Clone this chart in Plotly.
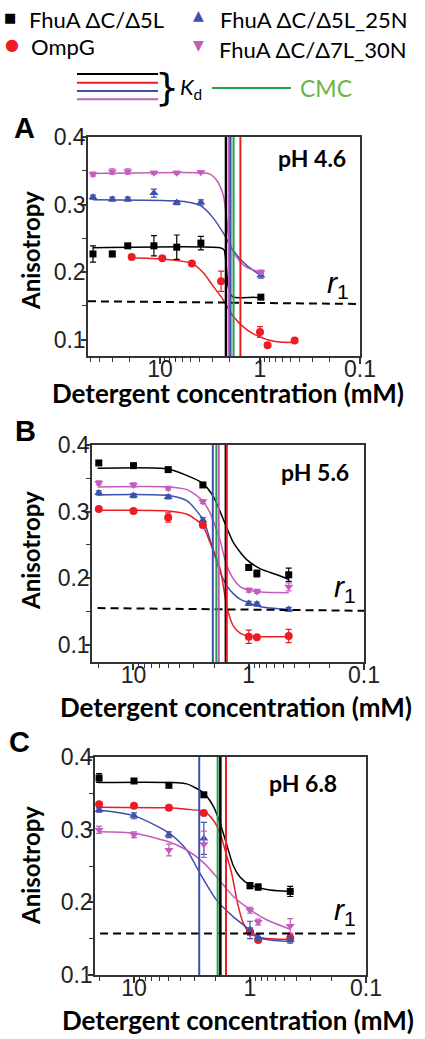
import plotly.graph_objects as go

# ---------------- DATA ----------------
# Panel A (pH 4.6)
conc_A = [46.8, 30.0, 21.0, 11.5, 6.8, 3.9, 0.98]
conc_A_red = [19.2, 9.5, 4.8, 2.45, 1.0, 0.84, 0.45]
A_black = [0.227, 0.227, 0.239, 0.239, 0.237, 0.243, 0.163]
A_black_err = [0.012, 0.004, 0.003, 0.015, 0.018, 0.010, 0.003]
A_blue = [0.311, 0.308, 0.308, 0.317, 0.303, 0.303, 0.195]
A_blue_err = [0.003, 0.003, 0.003, 0.006, 0.003, 0.004, 0.004]
A_mag = [0.345, 0.349, 0.349, 0.347, 0.347, 0.348, 0.200]
A_mag_err = [0.003, 0.004, 0.004, 0.002, 0.002, 0.002, 0.003]
A_red = [0.2225, 0.2205, 0.213, 0.1865, 0.1115, 0.092, 0.099]
A_red_err = [0.002, 0.002, 0.002, 0.015, 0.008, 0.003, 0.002]

A_fit_black_x = [46.8, 2.51, 2.29, 2.19, 2.09, 1.95, 1.82, 0.977]
A_fit_black_y = [0.236, 0.236, 0.233, 0.215, 0.180, 0.166, 0.163, 0.163]
A_fit_mag_x = [46.8, 3.89, 3.16, 2.71, 2.33, 2.15, 2.0, 1.71, 1.36, 0.977]
A_fit_mag_y = [0.346, 0.347, 0.345, 0.336, 0.314, 0.277, 0.242, 0.222, 0.207, 0.200]
A_fit_blue_x = [46.8, 5.41, 3.89, 2.93, 2.33, 1.85, 1.36, 0.977]
A_fit_blue_y = [0.307, 0.304, 0.298, 0.280, 0.258, 0.232, 0.210, 0.195]
A_fit_red_x = [19.2, 9.48, 4.79, 3.69, 2.93, 2.33, 1.85, 1.36, 1.0, 0.68, 0.447]
A_fit_red_y = [0.2215, 0.2195, 0.213, 0.199, 0.179, 0.159, 0.1345, 0.115, 0.104, 0.097, 0.096]
A_kd = {"black": 2.19, "mag": 2.04, "blue": 1.97, "red": 1.57}
A_cmc = 1.84
A_r1_x = [52.5, 0.1]
A_r1_y = [0.157, 0.153]

# Panels B and C share concentrations
conc_BC = [20, 10, 5, 2.5, 1.0, 0.85, 0.45]

# Panel B (pH 5.6)
B_black = [0.373, 0.369, 0.363, 0.340, 0.216, 0.207, 0.205]
B_black_err = [0.003, 0.003, 0.003, 0.003, 0.004, 0.005, 0.010]
B_mag = [0.343, 0.340, 0.335, 0.315, 0.182, 0.180, 0.187]
B_mag_err = [0.003, 0.003, 0.003, 0.003, 0.003, 0.003, 0.006]
B_blue = [0.328, 0.324, 0.322, 0.287, 0.162, 0.161, 0.153]
B_blue_err = [0.003, 0.003, 0.003, 0.004, 0.003, 0.003, 0.003]
B_red = [0.304, 0.301, 0.291, 0.280, 0.112, 0.111, 0.113]
B_red_err = [0.002, 0.002, 0.007, 0.004, 0.010, 0.003, 0.010]

B_fit_black_x = [20.5, 5.02, 3.43, 2.54, 2.02, 1.65, 1.35, 1.03, 0.79, 0.567, 0.449]
B_fit_black_y = [0.365, 0.364, 0.354, 0.343, 0.322, 0.287, 0.2525, 0.227, 0.214, 0.205, 0.198]
B_fit_mag_x = [20.5, 5.02, 3.43, 2.54, 2.15, 2.02, 1.88, 1.76, 1.65, 1.54, 1.35, 1.18, 1.0, 0.79, 0.449]
B_fit_mag_y = [0.337, 0.337, 0.333, 0.317, 0.297, 0.285, 0.270, 0.255, 0.235, 0.218, 0.198, 0.187, 0.182, 0.179, 0.178]
B_fit_blue_x = [20.5, 5.02, 3.43, 2.54, 2.30, 2.02, 1.76, 1.54, 1.35, 1.18, 1.0, 0.79, 0.449]
B_fit_blue_y = [0.325, 0.324, 0.316, 0.290, 0.272, 0.240, 0.208, 0.188, 0.176, 0.168, 0.163, 0.157, 0.153]
B_fit_red_x = [20.5, 5.02, 3.43, 2.54, 2.30, 2.15, 1.95, 1.76, 1.65, 1.54, 1.35, 1.18, 1.0, 0.449]
B_fit_red_y = [0.302, 0.301, 0.296, 0.280, 0.265, 0.252, 0.235, 0.212, 0.185, 0.155, 0.127, 0.117, 0.113, 0.112]
B_kd = {"blue": 2.05, "mag": 1.82, "black": 1.58, "red": 1.55}
B_cmc = 1.91
B_r1_x = [20.5, 0.1]
B_r1_y = [0.155, 0.151]

# Panel C (pH 6.8)
C_black = [0.371, 0.367, 0.361, 0.348, 0.223, 0.221, 0.215]
C_black_err = [0.006, 0.003, 0.003, 0.003, 0.004, 0.004, 0.007]
C_red = [0.335, 0.333, 0.330, 0.323, 0.160, 0.148, 0.151]
C_red_err = [0.003, 0.003, 0.003, 0.003, 0.005, 0.003, 0.005]
C_blue = [0.327, 0.319, 0.293, 0.288, 0.162, 0.152, 0.148]
C_blue_err = [0.003, 0.004, 0.004, 0.022, 0.012, 0.004, 0.004]
C_mag = [0.300, 0.293, 0.272, 0.280, 0.189, 0.173, 0.1675]
C_mag_err = [0.005, 0.004, 0.008, 0.018, 0.004, 0.004, 0.010]

C_fit_black_x = [20.3, 4.96, 3.51, 2.49, 2.07, 1.81, 1.59, 1.39, 1.22, 1.0, 0.67, 0.45]
C_fit_black_y = [0.365, 0.365, 0.363, 0.350, 0.332, 0.309, 0.280, 0.250, 0.235, 0.224, 0.217, 0.215]
C_fit_red_x = [20.3, 4.96, 3.51, 2.49, 2.07, 1.81, 1.64, 1.44, 1.26, 1.14, 1.0, 0.77, 0.45]
C_fit_red_y = [0.331, 0.330, 0.328, 0.325, 0.313, 0.295, 0.272, 0.240, 0.194, 0.171, 0.157, 0.151, 0.149]
C_fit_blue_x = [20.6, 9.94, 4.96, 3.51, 2.70, 1.94, 1.39, 1.0, 0.82, 0.45]
C_fit_blue_y = [0.327, 0.319, 0.295, 0.272, 0.240, 0.203, 0.180, 0.162, 0.151, 0.146]
C_fit_mag_x = [20.3, 9.94, 4.96, 3.51, 2.49, 1.94, 1.39, 1.0, 0.72, 0.45]
C_fit_mag_y = [0.297, 0.295, 0.283, 0.272, 0.254, 0.235, 0.208, 0.190, 0.176, 0.163]
C_kd = {"blue": 2.74, "mag": 1.81, "black": 1.80, "red": 1.61}
C_cmc = 1.90
C_r1_x = [19.6, 0.12]
C_r1_y = [0.157, 0.157]

x_tick_vals = [10, 1, 0.1]
x_tick_text = ["10", "1", "0.1"]
x_minor_vals = [0.2, 0.3, 0.4, 0.5, 0.6, 0.7, 0.8, 0.9, 2, 3, 4, 5, 6, 7, 8, 9, 20, 30, 40, 50]
y_tick_vals = [0.1, 0.2, 0.3, 0.4]
y_tick_text = ["0.1", "0.2", "0.3", "0.4"]

series_names = ["FhuA ΔC/Δ5L", "OmpG", "FhuA ΔC/Δ5L_25N", "FhuA ΔC/Δ7L_30N"]
ph_labels = ["pH 4.6", "pH 5.6", "pH 6.8"]
panel_letters = ["A", "B", "C"]

# ---------------- STYLE ----------------
W, H = 425, 1039
COL = {"black": "#000000", "red": "#ec1c24", "blue": "#3d50ad", "mag": "#c25dbc"}
GREEN = "#21a04a"
CMC_TXT = "#6db446"
SYM = {"black": "square", "red": "circle", "blue": "triangle-up", "mag": "triangle-down"}
MSIZE = {"black": 7, "red": 8, "blue": 8, "mag": 8}


def pxx(x):
    return x / W


def pxy(y):
    return 1 - y / H


panels = [
    dict(xd=(88, 360), yd=(137, 356), xr=[1.72, -1], yr=[0.076, 0.4]),
    dict(xd=(92, 364), yd=(445, 662), xr=[1.36, -1], yr=[0.074, 0.4]),
    dict(xd=(95, 366), yd=(757, 975), xr=[1.336, -1], yr=[0.1, 0.4]),
]

panel_data = [
    dict(
        pts={"black": (conc_A, A_black, A_black_err), "blue": (conc_A, A_blue, A_blue_err),
             "mag": (conc_A, A_mag, A_mag_err), "red": (conc_A_red, A_red, A_red_err)},
        fits={"black": (A_fit_black_x, A_fit_black_y), "blue": (A_fit_blue_x, A_fit_blue_y),
              "mag": (A_fit_mag_x, A_fit_mag_y), "red": (A_fit_red_x, A_fit_red_y)},
        kd=A_kd, cmc=A_cmc, r1=(A_r1_x, A_r1_y)),
    dict(
        pts={"black": (conc_BC, B_black, B_black_err), "mag": (conc_BC, B_mag, B_mag_err),
             "blue": (conc_BC, B_blue, B_blue_err), "red": (conc_BC, B_red, B_red_err)},
        fits={"black": (B_fit_black_x, B_fit_black_y), "mag": (B_fit_mag_x, B_fit_mag_y),
              "blue": (B_fit_blue_x, B_fit_blue_y), "red": (B_fit_red_x, B_fit_red_y)},
        kd=B_kd, cmc=B_cmc, r1=(B_r1_x, B_r1_y)),
    dict(
        pts={"black": (conc_BC, C_black, C_black_err), "red": (conc_BC, C_red, C_red_err),
             "blue": (conc_BC, C_blue, C_blue_err), "mag": (conc_BC, C_mag, C_mag_err)},
        fits={"black": (C_fit_black_x, C_fit_black_y), "red": (C_fit_red_x, C_fit_red_y),
              "blue": (C_fit_blue_x, C_fit_blue_y), "mag": (C_fit_mag_x, C_fit_mag_y)},
        kd=C_kd, cmc=C_cmc, r1=(C_r1_x, C_r1_y)),
]

fig = go.Figure()
layout = dict(
    width=W, height=H, margin=dict(l=0, r=0, t=0, b=0, pad=0, autoexpand=False),
    paper_bgcolor="white", plot_bgcolor="white", showlegend=False,
)

axis_line = dict(showline=True, linecolor="#333333", linewidth=1.5, mirror=True, automargin=False,
                 ticks="outside", tickcolor="#333333", tickwidth=1.5, showgrid=False,
                 zeroline=False, tickfont=dict(family="Arial, Liberation Sans", size=23, color="#222222"))

annotations = []
for i, (p, d) in enumerate(zip(panels, panel_data)):
    n = "" if i == 0 else str(i + 1)
    xa, ya = "x" + n, "y" + n
    layout["xaxis" + n] = dict(
        axis_line, type="log", range=p["xr"], anchor=ya,
        domain=[pxx(p["xd"][0]), pxx(p["xd"][1])],
        tickmode="array", tickvals=x_tick_vals, ticktext=x_tick_text, ticklen=6,
        ticklabelstandoff=-14,
        minor=dict(tickmode="array", tickvals=x_minor_vals, ticks="outside", ticklen=4,
                   tickcolor="#333333", tickwidth=1),
    )
    layout["yaxis" + n] = dict(
        axis_line, range=p["yr"], anchor=xa,
        domain=[pxy(p["yd"][1]), pxy(p["yd"][0])],
        tickmode="array", tickvals=y_tick_vals, ticktext=y_tick_text, ticklen=5,
        ticklabelstandoff=-9,
        minor=dict(dtick=0.05, ticks="outside", ticklen=4, tickcolor="#333333", tickwidth=1),
    )
    ylo, yhi = p["yr"]
    # fitted curves
    for k, (fx, fy) in d["fits"].items():
        fig.add_trace(go.Scatter(x=fx, y=fy, mode="lines", xaxis=xa, yaxis=ya,
                                 line=dict(color=COL[k], width=1.5, shape="spline", smoothing=0.7),
                                 hoverinfo="skip"))
    # data points
    for k, (cx, cy, ce) in d["pts"].items():
        fig.add_trace(go.Scatter(x=cx, y=cy, mode="markers", xaxis=xa, yaxis=ya,
                                 marker=dict(symbol=SYM[k], size=MSIZE[k], color=COL[k]),
                                 error_y=dict(type="data", array=ce, color=COL[k], thickness=1.2, width=3)))
    # r1 dashed line
    fig.add_trace(go.Scatter(x=d["r1"][0], y=d["r1"][1], mode="lines", xaxis=xa, yaxis=ya,
                             line=dict(color="black", width=2, dash="8px,5px"), hoverinfo="skip"))
    # Kd and CMC vertical lines
    fig.add_trace(go.Scatter(x=[d["cmc"], d["cmc"]], y=[ylo, yhi], mode="lines", xaxis=xa, yaxis=ya,
                             line=dict(color=GREEN, width=2), hoverinfo="skip"))
    for k, v in d["kd"].items():
        fig.add_trace(go.Scatter(x=[v, v], y=[ylo, yhi], mode="lines", xaxis=xa, yaxis=ya,
                                 line=dict(color=COL[k], width=2.5 if k == "black" else 2), hoverinfo="skip"))

# ---------------- TEXT ----------------
def ann(text, x, y, size, color="#111111", family="Lato", xanchor="center", yanchor="middle", angle=0):
    annotations.append(dict(text=text, x=pxx(x), y=pxy(y), xref="paper", yref="paper",
                            showarrow=False, xanchor=xanchor, yanchor=yanchor, textangle=angle,
                            font=dict(size=size, color=color, family=family)))

letter_pos = [(24, 128), (25, 431), (19, 742)]
ylab_pos = [(30, 251), (30, 551), (30, 866)]
xlab_pos = [(228, 393), (236, 707), (238, 1020)]
ph_pos = [(312, 158), (315, 472), (303, 783)]
r1_pos = [(338, 284), (345, 588), (345, 911)]
for i in range(3):
    ann("<b>%s</b>" % panel_letters[i], *letter_pos[i], 29, "#000000", "Arial, Liberation Sans")
    ann("<b>Anisotropy</b>", *ylab_pos[i], 24, "#000000", angle=-90)
    ann("<b>Detergent concentration (mM)</b>", *xlab_pos[i], 26, "#000000")
    ann("<b>%s</b>" % ph_labels[i], *ph_pos[i], 23, "#000000")
    ann("<i>r</i><sub>1</sub>", *r1_pos[i], 30, "#000000", "Arial, Liberation Sans")

# top legend
ann("■", 10, 17, 13, COL["black"], "DejaVu Sans")
ann(series_names[0], 27, 19, 22, "#000000", xanchor="left")
ann("●", 12, 45, 16, COL["red"], "DejaVu Sans")
ann(series_names[1], 29, 47, 22, "#000000", xanchor="left")
ann("▲", 198, 15, 14, COL["blue"], "DejaVu Sans")
ann(series_names[2], 218, 19, 22, "#000000", xanchor="left")
ann("▼", 198, 45, 14, COL["mag"], "DejaVu Sans")
ann(series_names[3], 217, 49, 22, "#000000", xanchor="left")
ann("}", 167, 87, 38, "#000000", "DejaVu Sans")
ann("<i>K</i><sub>d</sub>", 178, 88, 22, "#000000", "Lato", xanchor="left")
ann("CMC", 298, 88, 23, CMC_TXT, "Lato", xanchor="left")

shapes = []
for yy, k in zip([74, 82.7, 91, 99.3], ["black", "red", "blue", "mag"]):
    shapes.append(dict(type="line", xref="paper", yref="paper", x0=pxx(77), x1=pxx(158),
                       y0=pxy(yy), y1=pxy(yy), line=dict(color=COL[k], width=2)))
shapes.append(dict(type="line", xref="paper", yref="paper", x0=pxx(212), x1=pxx(291),
                   y0=pxy(88), y1=pxy(88), line=dict(color=GREEN, width=2)))

layout["annotations"] = annotations
layout["shapes"] = shapes
fig.update_layout(**layout)
fig.write_html("out.html", config={"displayModeBar": False},
               post_script="document.body.style.margin='0';document.body.style.overflow='hidden';")
